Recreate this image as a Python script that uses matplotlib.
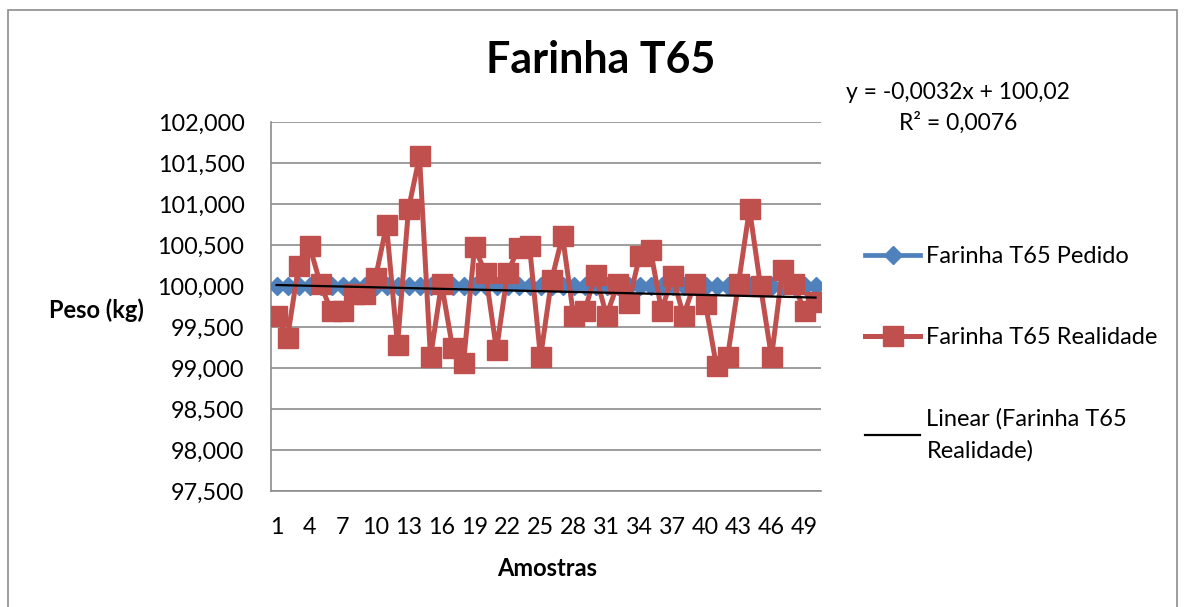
import numpy as np
import matplotlib
matplotlib.use("Agg")
import matplotlib.pyplot as plt
from matplotlib.patches import Rectangle
from matplotlib.ticker import FuncFormatter

plt.rcParams['font.family'] = ['Lato', 'DejaVu Sans']

# Data (peso em kg, amostras 1..50)
amostras = np.arange(1, 51)
pedido = [100.0] * 50
realidade = [99.64, 99.37, 100.24, 100.49, 100.02, 99.69, 99.69, 99.90, 99.90, 100.10,
             100.74, 99.28, 100.94, 101.58, 99.13, 100.03, 99.25, 99.06, 100.47, 100.16,
             99.22, 100.16, 100.46, 100.49, 99.13, 100.07, 100.61, 99.64, 99.69, 100.14,
             99.64, 100.02, 99.79, 100.36, 100.44, 99.70, 100.12, 99.64, 100.03, 99.78,
             99.02, 99.13, 100.03, 100.94, 100.00, 99.13, 100.20, 100.02, 99.70, 99.80]
y_ticks = [97.5, 98.0, 98.5, 99.0, 99.5, 100.0, 100.5, 101.0, 101.5, 102.0]
x_ticks = list(range(1, 51, 3))
eq_text = "y = -0,0032x + 100,02\nR² = 0,0076"

blue = '#4F81BD'
red = '#C0504D'

fig = plt.figure(figsize=(11.84, 6.07), dpi=100)
ax = fig.add_axes([271 / 1184, 1 - 491 / 607, 550 / 1184, 369 / 607])

# outer chart border
fig.patches.append(Rectangle((8 / 1184, -0.05), 1169 / 1184, 1.05 - 10 / 607,
                             transform=fig.transFigure, fill=False,
                             edgecolor='#8c8c8c', linewidth=1.2))

ax.plot(amostras, pedido, color=blue, linewidth=3.4, marker='D', markersize=9,
        label='Farinha T65 Pedido', zorder=3)
ax.plot(amostras, realidade, color=red, linewidth=3.6, marker='s', markersize=14,
        label='Farinha T65 Realidade', zorder=4)

# linear trendline
coef = np.polyfit(amostras, realidade, 1)
ax.plot(amostras, np.polyval(coef, amostras), color='black', linewidth=1.6,
        label='Linear (Farinha T65\nRealidade)', zorder=5)

ax.set_xlim(0.5, 50.5)
ax.set_ylim(97.5, 102.0)
ax.set_yticks(y_ticks)
ax.set_xticks(x_ticks)
ax.yaxis.set_major_formatter(FuncFormatter(lambda v, p: f"{v:.3f}".replace('.', ',')))
ax.tick_params(axis='y', length=0, labelsize=16.8, pad=19)
ax.tick_params(axis='x', length=0, labelsize=16.8, pad=19)
ax.grid(axis='y', color='#8c8c8c', linewidth=1.2)
ax.set_axisbelow(True)
for s in ['top', 'right']:
    ax.spines[s].set_visible(False)
for s in ['left', 'bottom']:
    ax.spines[s].set_color('#8c8c8c')
    ax.spines[s].set_linewidth(1.2)

fig.text(601 / 1184, 1 - 60 / 607, 'Farinha T65', fontsize=31, fontweight='bold',
         ha='center', va='center')
fig.text(96 / 1184, 1 - 310 / 607, 'Peso (kg)', fontsize=17, fontweight='bold',
         ha='center', va='center')
fig.text(547 / 1184, 1 - 569 / 607, 'Amostras', fontsize=17, fontweight='bold',
         ha='center', va='center')
fig.text(958 / 1184, 1 - 108 / 607, eq_text, fontsize=16.5, ha='center', va='center',
         linespacing=1.45)

leg = ax.legend(loc='upper left', bbox_to_anchor=(865 / 1184, 1 - 246 / 607),
                bbox_transform=fig.transFigure, frameon=False, borderpad=0,
                borderaxespad=0, fontsize=17, handlelength=2.35,
                labelspacing=2.55, handletextpad=0.25)
for t in leg.get_texts():
    t.set_linespacing(1.6)

fig.savefig('out.png', dpi=100)
